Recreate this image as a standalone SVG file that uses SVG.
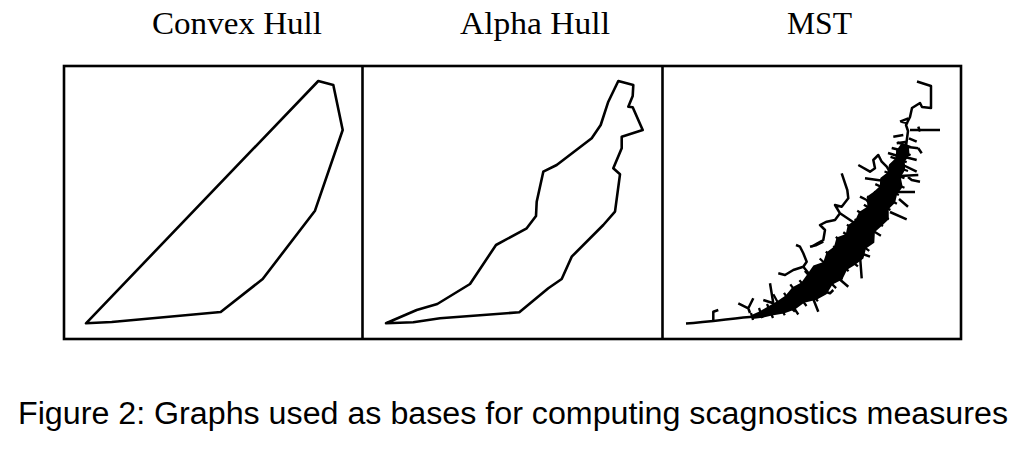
<svg xmlns="http://www.w3.org/2000/svg" width="1024" height="468" viewBox="0 0 1024 468">
<style>
.title{font-family:"Liberation Serif","Times New Roman",serif;font-size:32px;fill:#000}
.cap{font-family:"Liberation Sans",Arial,sans-serif;font-size:31px;fill:#000}
.frame{fill:none;stroke:#000;stroke-width:2.6}
.hull{fill:none;stroke:#000;stroke-width:2.6;stroke-linejoin:round}
.mst{fill:none;stroke:#000;stroke-width:2.5;stroke-linejoin:round;stroke-linecap:butt}
.tick{fill:none;stroke:#000;stroke-width:2.3}
</style>
<rect width="1024" height="468" fill="#fff"/>
<g id="titles">
<text class="title" x="152" y="34" textLength="170" lengthAdjust="spacingAndGlyphs">Convex Hull</text>
<text class="title" x="460" y="34" textLength="150" lengthAdjust="spacingAndGlyphs">Alpha Hull</text>
<text class="title" x="787" y="34" textLength="65" lengthAdjust="spacingAndGlyphs">MST</text>
</g>
<g id="frames">
<rect class="frame" x="64" y="66" width="897" height="273"/>
<line class="frame" x1="362.5" y1="66" x2="362.5" y2="339"/>
<line class="frame" x1="662.5" y1="66" x2="662.5" y2="339"/>
</g>
<g id="convex-hull">
<polygon class="hull" points="86,323.3 111.7,322 220.7,312 262.7,279 315,210.7 342.7,130 333.3,85 318.3,81"/>
</g>
<g id="alpha-hull">
<polygon class="hull" points="386,323.3 416.7,310 437.3,304 470,284 496,245 526.7,228.3 536,216 536.7,201.7 543.3,171.7 556.7,165 591.7,138.3 600.7,125 608.3,101.7 618.3,81 633.3,85 632.7,96 628.3,106.7 632.7,107.3 642.7,130 621.7,136.7 621.7,148.3 613.3,168.3 620,174.3 615,211.7 603.3,225 571.7,256.7 561.7,279 548.3,288.3 519.3,312.3 440,318.3 413.3,322.3"/>
</g>
<g id="mst">
<polygon fill="#000" points="751.4,315.1 759.9,311.2 768,306.5 777.1,301.3 785.6,295.4 792.4,287.2 801.4,282.5 807.5,273.9 813.4,265.4 823.3,261.9 826.6,252.3 834,246.8 836.6,237.5 845.8,234 847.7,225.2 855.4,219.9 859,211.9 867.3,206.8 867,196.5 873.8,191.7 879.8,186.2 880.3,178.1 887.4,172.4 889,164.6 895.3,158.4 896.3,150.4 901.2,143.7 908.8,146.3 909.6,154.9 904.8,161.6 905.1,170.1 900.7,176.9 902.7,186.9 897.1,194.2 895.1,202.8 888.7,209 888.8,219.3 882.2,225.6 874.9,232.1 874.3,242.8 866,248.5 863.4,258.5 855.6,264.5 847.1,269.8 842.3,279.5 832.5,284.5 826.5,294.3 816.6,299.8 804.1,302.8 795,309.5 783.8,313.5 772,315.6 762.4,317.7 752.6,318.9"/>
<path class="mst" d="M686,323.5 C710,322 735,318 755,316.5"/>
<path class="tick" d="M751,313 L753,320 M759,308 L762.5,318 M767,304 L773,318 M773.3,294.3 L784.8,315.2 M784,292.9 L798.3,314.5 M790.3,284.4 L806.5,306 M799.4,280.3 L817.9,301.3 M804.8,271 L824.8,292.5 M814.8,266.8 L836.1,288.1 M819.7,258.5 L842.3,279.5 M825.8,251.6 L848.6,271.1 M833.2,246.2 L857.9,266.3 M835.8,236.8 L861.9,257.3 M843.3,232.3 L869.3,250.9 M846.9,224.6 L872.6,241.7 M854.5,219.3 L880.9,235.8 M857.2,210.8 L883,226.1 M863.9,204.8 L888.8,219.3 M867,196.5 L890.4,210 M873.8,191.7 L896.9,203.7 M875.3,184.1 L898.9,195 M882.2,178.8 L904.5,187.7 M884.5,171.5 L904.5,178.2 M889.9,164.9 L908,171 M890.5,156.8 L906.7,162.2 M896.3,150.4 L910.6,155.2 M897.4,142.4 L910.7,147"/>
<path class="mst" d="M906,146 L908,131 L906,125 L910,117 L912,108 L920,103 L922,107 L931,108 L931,86 L917,81.5
M713.3,321 L713.3,311.7 L718.3,310
M738.3,303.3 L748.3,308.3 L753.3,298.3 M748.3,308.3 L750,313
M763.3,300 L773.3,303.3 L770,283.3
M788.3,305 L795,311.7
M778.3,273.3 L785,275 L793.3,270 L803.3,266.7 L806.7,261.7 L803.3,253.3 L800,246.7 L796,245 M803.3,266.7 L810,275
M811.7,295 L818.3,311.7
M820,290 L830,293.3 L833.3,290
M836.7,276.7 L848.3,286.7
M860,256 L861.7,278.3
M841.7,173.3 L847.3,190 L848.3,198.3 L841.7,206.7 L835,205 L840,213.3 L835,220 L826.7,221.7 L820,225 L825,230 L823.3,240 L811.7,246.7 M840,213.3 L856,224
M810,246.7 L816.7,245 L823.3,241.7
M860,196.7 L866.7,200 L871.7,206.7
M858.3,165 L870,171.7 L875,168.3 L873.3,160 L878.3,155 L881.7,161.7 L886.7,166.7 L890,172
M865,178.3 L890,181.7
M901.7,121.7 L908.3,123.3
M893.3,136.7 L903.3,135
M896.7,143.3 L906.7,141.7
M918.3,126.7 L920,131.7
M910,130 L940,130
M916.7,141.7 L909,138.3
M918.3,148.3 L921.7,153.3 M908,147 L918.3,148.3
M905,157 L916.7,160
M903,165 L916.7,171.7
M900,176 L918.3,175
M908,177 L911.7,180 L920,181.7
M895,192 L915,192
M899,199 L908,206.7
M890,212 L906.7,219.3
M860,253 L870,256.7
M900,121.7 L908.3,118.3
M891.7,148 L900,150
M898,156 L888,153"/>
</g>
<g id="caption">
<text class="cap" x="18" y="424" textLength="990" lengthAdjust="spacingAndGlyphs">Figure 2: Graphs used as bases for computing scagnostics measures</text>
</g>
</svg>
